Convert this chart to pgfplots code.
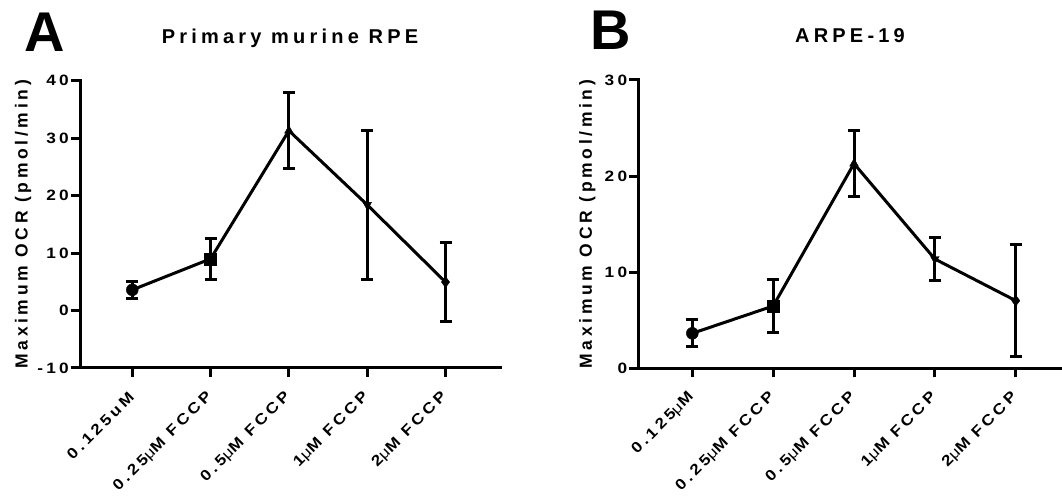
\documentclass[border=0pt]{standalone}
\usepackage{fontspec}
\setmainfont{Liberation Sans}
\newfontfamily\spc[LetterSpace=21]{Liberation Sans}
\newfontfamily\spct[LetterSpace=22,FakeStretch=1.15]{Liberation Sans}
\usepackage{pgfplots}
\pgfplotsset{compat=1.18}

\newcommand{\um}{{\mdseries μ}}
\newcommand{\xtickfont}{\spct\bfseries\fontsize{15}{15}\selectfont}
\newcommand{\ytickfont}{\spct\bfseries\fontsize{15}{15}\selectfont}

\pgfplotsset{
  prism/.style={
    scale only axis, anchor=south west, clip=false,
    axis lines=left,
    axis line style={-, line width=3pt, line cap=rect},
    tick style={line width=3pt, black},
    major tick length=9pt, tick align=outside,
    xtick={0,...,4}, xmin=-0.668,
    xticklabel style={yshift=-17pt, rotate=45, anchor=east, font=\xtickfont, inner sep=1pt},
    yticklabel style={font=\ytickfont, inner sep=2pt},
    ylabel={Maximum OCR (pmol/min)},
    ylabel style={at={(axis description cs:0,0.5)}, anchor=center,
      font=\spc\bfseries\fontsize{17.5}{17.5}\selectfont},
    title style={at={(axis description cs:0.5,1)}, anchor=base, yshift=31pt,
      font=\spc\bfseries\fontsize{20}{20}\selectfont},
  },
  errline/.style={black, line width=3pt, mark=*, mark size=0pt,
    error bars/.cd, y dir=both, y explicit, error mark=-,
    error bar style={line width=3pt, black},
    error mark options={rotate=90, line width=3pt, mark size=6pt, black}},
  pt/.style={only marks, black, mark options={line width=0.4pt, fill=black}},
}

\begin{document}
\begin{tikzpicture}
\useasboundingbox (0,0) rectangle (1062pt,497pt);

\node[anchor=base west, inner sep=0] at (24pt,445pt) {\bfseries\fontsize{56}{56}\selectfont A};
\node[anchor=base west, inner sep=0] at (590pt,447pt) {\bfseries\fontsize{56}{56}\selectfont B};

% panel A
\begin{axis}[prism,
  at={(80pt,129pt)}, width=420pt, height=287.3pt,
  xmax=4.696, ymin=-10, ymax=40,
  ytick={-10,0,10,20,30,40}, yticklabels={-10,0,10,20,30,40},
  xticklabels={0.125uM, 0.25\um M FCCP, 0.5\um M FCCP, 1\um M FCCP, 2\um M FCCP},
  ylabel style={yshift=57pt},
  title={Primary murine RPE},
]
\addplot[errline] coordinates {
  (0,3.6) +- (0,1.45)
  (1,9.0) +- (0,3.6)
  (2,31.3) +- (0,6.6)
  (3,18.4) +- (0,13.0)
  (4,4.95) +- (0,6.9)
};
\addplot[pt, mark=*, mark size=6pt] coordinates {(0,3.6)};
\addplot[pt, mark=square*, mark size=6pt] coordinates {(1,9.0)};
\addplot[pt, mark=triangle*, mark size=5pt] coordinates {(2,31.3)};
\addplot[pt, mark=triangle*, mark size=5pt, mark options={rotate=180}] coordinates {(3,18.4)};
\addplot[pt, mark=diamond*, mark size=5.5pt] coordinates {(4,4.95)};
\end{axis}

% panel B
\begin{axis}[prism,
  at={(638.3pt,128.7pt)}, width=423.4pt, height=288.3pt,
  xmax=4.569, ymin=0, ymax=30,
  ytick={0,10,20,30}, yticklabels={0,10,20,30},
  xticklabels={0.125\um M, 0.25\um M FCCP, 0.5\um M FCCP, 1\um M FCCP, 2\um M FCCP},
  ylabel style={yshift=51pt},
  title={ARPE-19},
]
\addplot[errline] coordinates {
  (0,3.64) +- (0,1.42)
  (1,6.48) +- (0,2.8)
  (2,21.3) +- (0,3.45)
  (3,11.37) +- (0,2.2)
  (4,7.04) +- (0,5.8)
};
\addplot[pt, mark=*, mark size=6pt] coordinates {(0,3.64)};
\addplot[pt, mark=square*, mark size=6pt] coordinates {(1,6.48)};
\addplot[pt, mark=triangle*, mark size=5pt] coordinates {(2,21.3)};
\addplot[pt, mark=triangle*, mark size=5pt, mark options={rotate=180}] coordinates {(3,11.37)};
\addplot[pt, mark=diamond*, mark size=5.5pt] coordinates {(4,7.04)};
\end{axis}
\end{tikzpicture}
\end{document}
